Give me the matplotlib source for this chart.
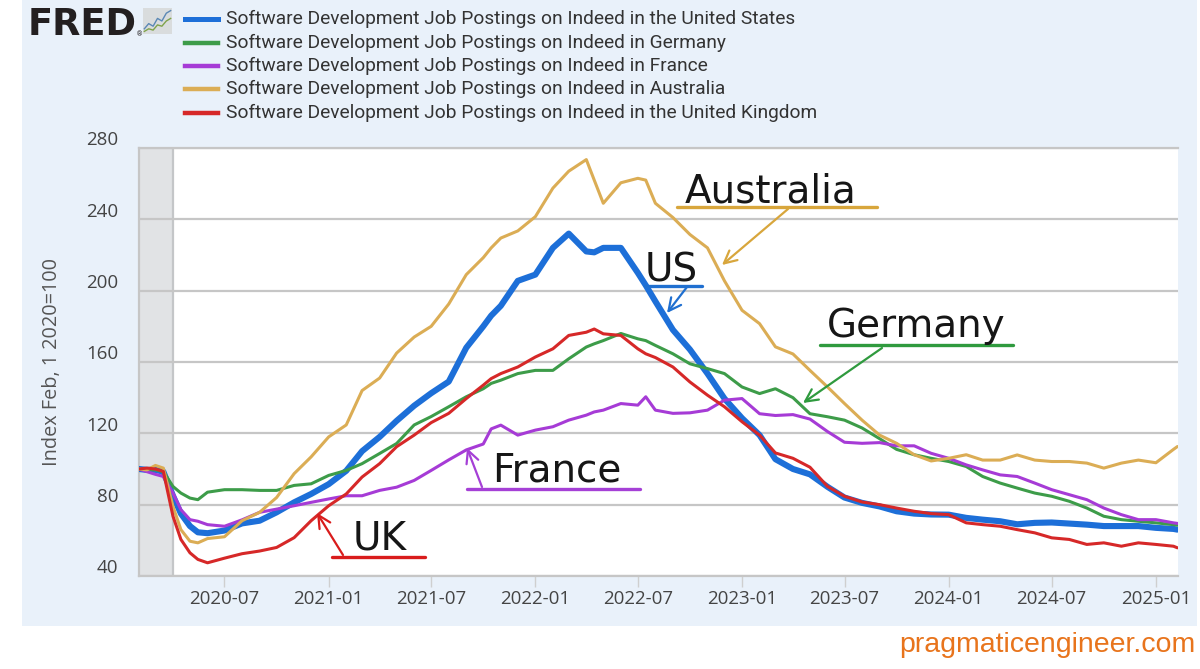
import matplotlib
matplotlib.use("Agg")
import matplotlib.pyplot as plt
import pandas as pd
from matplotlib.patches import Rectangle
from matplotlib.lines import Line2D
from matplotlib.transforms import ScaledTranslation

plt.rcParams['font.family'] = ['Roboto', 'DejaVu Sans']

# ---------------- data (index, Feb 1 2020 = 100) ----------------
dates = ["2020-02-01", "2020-02-15", "2020-03-01", "2020-03-15", "2020-04-01",
         "2020-04-15", "2020-05-01", "2020-05-15", "2020-06-01", "2020-07-01",
         "2020-08-01", "2020-09-01", "2020-10-01", "2020-11-01", "2020-12-01",
         "2021-01-01", "2021-02-01", "2021-03-01", "2021-04-01", "2021-05-01",
         "2021-06-01", "2021-07-01", "2021-08-01", "2021-09-01", "2021-10-01",
         "2021-10-15", "2021-11-01", "2021-12-01", "2022-01-01", "2022-02-01",
         "2022-03-01", "2022-04-01", "2022-04-15", "2022-05-01", "2022-06-01",
         "2022-07-01", "2022-07-15", "2022-08-01", "2022-09-01", "2022-10-01",
         "2022-11-01", "2022-12-01", "2023-01-01", "2023-02-01", "2023-03-01",
         "2023-04-01", "2023-05-01", "2023-06-01", "2023-07-01", "2023-08-01",
         "2023-09-01", "2023-10-01", "2023-11-01", "2023-12-01", "2024-01-01",
         "2024-02-01", "2024-03-01", "2024-04-01", "2024-05-01", "2024-06-01",
         "2024-07-01", "2024-08-01", "2024-09-01", "2024-10-01", "2024-11-01",
         "2024-12-01", "2025-01-01", "2025-02-01", "2025-02-08"]

us = [100, 99.5, 99.5, 98.5, 85, 75, 68, 64.5, 64, 65.5,
      69.5, 71, 75.7, 81.3, 86, 91.5, 99, 110, 118, 127,
      135.5, 142.5, 149, 168, 180, 186, 191.5, 205.5, 209, 224,
      232, 222, 221.5, 224, 224, 210, 203, 194, 178, 167,
      153.5, 139.5, 128.5, 119, 105.5, 100, 97, 90, 84, 81,
      79, 76.3, 75, 74.5, 74.4, 72.6, 71.6, 70.7, 69, 69.8,
      70, 69.4, 68.8, 68, 68, 68, 67, 66.4, 66]

germany = [100, 99.5, 99.5, 98.6, 90.2, 86.5, 83.7, 82.8, 87, 88.4,
           88.4, 88, 88, 90.8, 91.7, 96.4, 99.2, 103, 108.7, 114.3,
           124.7, 129.4, 134.9, 140.5, 145, 148, 149.8, 153.5, 155.3, 155.3,
           161.8, 168.4, 170.2, 172, 176, 173, 172, 169.3, 164.6, 159,
           156.3, 153.5, 146, 142.3, 145, 140, 131, 129.3, 127.4, 123,
           117, 111, 108, 106, 104.2, 101.4, 95.8, 92.1, 89.3, 86.5,
           84.7, 81.9, 78.1, 73.5, 71.6, 70.7, 69.8, 68.8, 68.5]

france = [100, 98.5, 97, 95.8, 86.5, 77.2, 71.6, 70.7, 68.8, 67.9,
          71.5, 75.7, 77.5, 79.4, 81.3, 83.2, 85, 85, 88, 89.8,
          93.6, 99.2, 105.1, 110.7, 114, 122.5, 124.6, 119, 121.8, 123.7,
          127.4, 130.2, 132, 133, 136.7, 135.8, 140.5, 133, 131.2, 131.5,
          133, 138.6, 139.5, 131, 130, 130.5, 128, 121, 115, 114.4,
          114.8, 113, 113, 108.8, 106, 102.3, 99.5, 96.7, 95.8, 92.1,
          88.4, 85.6, 82.8, 78.1, 74.4, 71.6, 71.6, 69.8, 69.5]

australia = [100, 99.5, 102, 100.5, 79, 66, 59.5, 58.6, 61, 62,
             71, 75.7, 84, 97.4, 106.8, 118, 124.7, 144, 151, 165,
             174, 180, 192.5, 209, 218.5, 224, 229.5, 233.5, 241.5, 257.5,
             267, 273.5, 262, 249, 260.5, 263, 262, 249, 241, 231.5,
             224, 205.5, 189, 181.5, 168.5, 164.5, 155.3, 146, 136.7, 127.4,
             119, 114.4, 108, 104.5, 106, 108, 105, 105, 107.9, 105,
             104.2, 104.2, 103.3, 100.5, 103.3, 105, 103.5, 111, 112.6]

uk = [100, 100.5, 100, 98.6, 73.5, 60.5, 53, 49.3, 47.4, 50,
      52.5, 54, 56, 61.5, 71, 79.4, 86, 95.5, 103, 112.5,
      119, 126, 131.2, 139.5, 147, 150.7, 153.5, 157.2, 162.8, 167.4,
      174.9, 176.7, 178.5, 175.8, 174.9, 167.4, 164.6, 162.5, 157.2, 148.8,
      141.4, 134.9, 126.5, 119, 109, 106, 101, 90.2, 84.7, 81.5,
      80, 78.1, 76.3, 75, 74.4, 69.8, 68.8, 67.9, 66, 64.2,
      61.4, 60.5, 57.7, 58.6, 56.7, 58.6, 57.7, 56.7, 55.8]

series_names = ["Software Development Job Postings on Indeed in the United States",
                "Software Development Job Postings on Indeed in Germany",
                "Software Development Job Postings on Indeed in France",
                "Software Development Job Postings on Indeed in Australia",
                "Software Development Job Postings on Indeed in the United Kingdom"]
series_values = [us, germany, france, australia, uk]
series_colors = ["#1d6fd8", "#3d9c49", "#a63bd6", "#dbad55", "#d62828"]

x_ticks = ["2020-07-01", "2021-01-01", "2021-07-01", "2022-01-01", "2022-07-01",
           "2023-01-01", "2023-07-01", "2024-01-01", "2024-07-01", "2025-01-01"]
x_tick_labels = ["2020-07", "2021-01", "2021-07", "2022-01", "2022-07",
                 "2023-01", "2023-07", "2024-01", "2024-07", "2025-01"]
y_ticks = [40, 80, 120, 160, 200, 240, 280]
recession = ["2020-02-01", "2020-04-01"]

icon_blue = [2, 4, 3, 6, 5, 8, 9]
icon_green = [1, 2, 1.5, 3.5, 3, 5, 6]

# ---------------- figure ----------------
W, H = 1200, 669
fig = plt.figure(figsize=(W / 100, H / 100), dpi=100)
fig.patch.set_facecolor("white")


def fx(x):
    return x / W


def fy(y):
    return 1 - y / H


fig.patches.append(Rectangle((fx(22), fy(626)), fx(1197) - fx(22), fy(0) - fy(626),
                             transform=fig.transFigure, facecolor="#e9f1fa",
                             edgecolor="none", zorder=-10))

ax = fig.add_axes([fx(139), fy(576), fx(1178) - fx(139), fy(148) - fy(576)])
ax.set_facecolor("white")
d = pd.to_datetime(dates)
ax.set_xlim(pd.Timestamp("2020-02-01"), pd.Timestamp("2025-02-09"))
ax.set_ylim(40, 280)

ax.axvspan(pd.Timestamp(recession[0]), pd.Timestamp(recession[1]),
           color="#e1e3e5", zorder=0.2, lw=0)
ax.axvline(pd.Timestamp(recession[1]), color="#c4c6c8", lw=1.6, zorder=0.3)

ax.set_axisbelow(True)
ax.yaxis.grid(True, color="#c6c6c6", lw=1.6)
ax.set_yticks(y_ticks)
ax.set_yticklabels([str(v) for v in y_ticks], family="Open Sans")
ax.tick_params(axis="y", length=0, pad=15, labelsize=13.5, labelcolor="#444444")
up = ScaledTranslation(0, 2 / 72, fig.dpi_scale_trans)
for lab in ax.get_yticklabels():
    lab.set_va("baseline")
    lab.set_transform(lab.get_transform() + up)

ax.set_xticks(pd.to_datetime(x_ticks))
ax.set_xticklabels(x_tick_labels, family="Open Sans")
ax.tick_params(axis="x", length=8, width=1, color="#cfcfcf", pad=2,
               labelsize=13.5, labelcolor="#444444")

for side in ["top", "bottom", "left"]:
    ax.spines[side].set_color("#c6c6c6")
    ax.spines[side].set_linewidth(1.6)
ax.spines["right"].set_visible(False)

for name, vals, col in zip(series_names, series_values, series_colors):
    lw = 4.4 if col == series_colors[0] else 2.2
    ax.plot(d, vals, color=col, lw=lw, solid_joinstyle="round",
            solid_capstyle="round", zorder=3)

fig.text(fx(52), fy(362), "Index Feb, 1 2020=100", rotation=90, ha="center",
         va="center", fontsize=14.3, color="#555555", family="Open Sans")

# ---------------- legend / header ----------------
fig.text(fx(28), fy(35), "FRED", family="DejaVu Sans", fontweight="bold",
         fontsize=26.5, color="#231f20", va="baseline", ha="left")
fig.text(fx(137), fy(36), "\u00ae", fontsize=5, color="#231f20", va="baseline")
iax = fig.add_axes([fx(143), fy(34), 29 / W, 26 / H])
iax.set_facecolor("#d9dcdd")
iax.plot(icon_blue, color="#5b88b5", lw=1.0)
iax.plot(icon_green, color="#7fa34a", lw=1.0)
iax.set_xlim(-0.3, 6.3)
iax.set_ylim(0, 10)
iax.set_xticks([])
iax.set_yticks([])
for s in iax.spines.values():
    s.set_visible(False)

rows = [19, 43, 66, 89, 113]
for ry, name, col in zip(rows, series_names, series_colors):
    fig.lines.append(Line2D([fx(185), fx(218)], [fy(ry), fy(ry)],
                            transform=fig.transFigure, color=col,
                            lw=3.6 if col == series_colors[0] else 3.2))
    fig.text(fx(226), fy(ry), name, fontsize=13.8, color="#333333",
             va="center", ha="left")

# ---------------- hand-drawn style annotations ----------------
hand = dict(family="DejaVu Sans", fontsize=28, color="#161616",
            ha="left", va="baseline")
notes = [
    ("Australia", (685, 202), (677, 877, 207), ((788, 209), (722, 265)), "#d8a63c"),
    ("US", (645, 282), (645, 702, 286), ((687, 287), (667, 313)), "#1f6fd0"),
    ("Germany", (827, 337), (820, 1013, 345), ((882, 348), (803, 403)), "#2f9a3e"),
    ("France", (492, 482), (467, 640, 489), ((482, 487), (467, 448)), "#a540d6"),
    ("UK", (353, 550), (332, 425, 557), ((343, 555), (317, 513)), "#d91c1c"),
]
for txt, (tx, ty), (u1, u2, uy), ((ax0, ay0), (ax1, ay1)), col in notes:
    fig.text(fx(tx), fy(ty), txt, **hand)
    fig.lines.append(Line2D([fx(u1), fx(u2)], [fy(uy), fy(uy)],
                            transform=fig.transFigure, color=col, lw=2.4,
                            solid_capstyle="round"))
    ax.annotate("", xy=(fx(ax1), fy(ay1)), xycoords="figure fraction",
                xytext=(fx(ax0), fy(ay0)), textcoords="figure fraction",
                arrowprops=dict(arrowstyle="->,head_length=0.9,head_width=0.45",
                                color=col, lw=1.6, shrinkA=0, shrinkB=0),
                annotation_clip=False, zorder=5)

fig.text(fx(1195), fy(645), "pragmaticengineer.com", ha="right", va="center",
         fontsize=20.5, color="#e8741c", family="Liberation Sans")

fig.savefig("out.png", dpi=100, facecolor=fig.get_facecolor())
